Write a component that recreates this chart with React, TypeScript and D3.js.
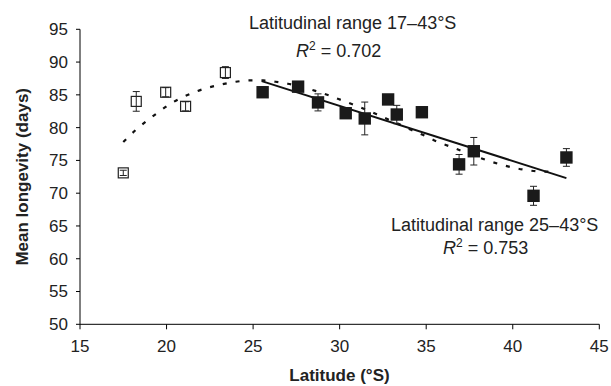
import React from "react";
import * as d3 from "d3";

// open squares: 17–25°S sites
const openLat = [17.5, 18.25, 19.95, 21.1, 23.4];
const openMean = [73.1, 84.0, 85.4, 83.25, 88.4];
const openErr = [0.4, 1.5, 0.7, 0.7, 0.9];

// filled squares: 25–43°S sites
const filledLat = [25.55, 27.6, 28.75, 30.35, 31.45, 32.8, 33.3, 34.75, 36.9, 37.75, 41.2, 43.1];
const filledMean = [85.4, 86.25, 83.85, 82.2, 81.4, 84.3, 82.0, 82.35, 74.4, 76.4, 69.6, 75.45];
const filledErr = [0.8, 0.6, 1.3, 0.5, 2.5, 0.3, 1.4, 0.8, 1.5, 2.1, 1.45, 1.35];

// trend lines
const linearFit: [number, number][] = [[25.5, 87.1], [43.1, 72.3]];
const polyFit: [number, number][] = [
  [17.5, 77.8], [18.2, 79.6], [19.5, 82.3], [20.2, 83.6], [20.9, 84.6], [21.7, 85.5],
  [22.4, 86.1], [23.2, 86.6], [24.0, 87.0], [24.8, 87.2], [25.6, 87.2], [26.3, 87.0],
  [27.0, 86.7], [28.6, 85.6], [29.4, 84.9], [30.2, 84.1], [31.0, 83.3], [31.7, 82.55],
  [32.5, 81.6], [33.3, 80.7], [34.05, 79.75], [34.8, 78.9], [35.6, 77.9], [36.4, 77.1],
  [37.1, 76.4], [37.9, 75.6], [38.6, 74.95], [39.4, 74.3], [40.2, 73.8], [41.0, 73.45],
  [41.7, 73.3], [42.5, 73.3],
];

const xTicks = [15, 20, 25, 30, 35, 40, 45];
const yTicks = [50, 55, 60, 65, 70, 75, 80, 85, 90, 95];

const font = "'Liberation Sans', Arial, sans-serif";

export default function App() {
  const x = d3.scaleLinear().domain([15, 45]).range([80, 599.3]);
  const y = d3.scaleLinear().domain([50, 95]).range([324.3, 29.3]);

  const line = d3.line<[number, number]>()
    .x(d => x(d[0]))
    .y(d => y(d[1]));
  const curve = d3.line<[number, number]>()
    .x(d => x(d[0]))
    .y(d => y(d[1]))
    .curve(d3.curveMonotoneX);

  const errBar = (lat: number, m: number, e: number, k: string) => (
    <g key={k} stroke="#222" strokeWidth={1}>
      <line x1={x(lat)} x2={x(lat)} y1={y(m - e)} y2={y(m + e)} />
      <line x1={x(lat) - 3.5} x2={x(lat) + 3.5} y1={y(m - e)} y2={y(m - e)} />
      <line x1={x(lat) - 3.5} x2={x(lat) + 3.5} y1={y(m + e)} y2={y(m + e)} />
    </g>
  );

  return (
    <svg width={611} height={386} style={{ position: "absolute", left: 0, top: 0, background: "#fff" }}
      fontFamily={font}>
      {/* axes */}
      <line x1={80} x2={80} y1={y(95)} y2={y(50)} stroke="#000" />
      <line x1={80} x2={x(45)} y1={y(50)} y2={y(50)} stroke="#000" />
      {yTicks.map(t => (
        <g key={"y" + t}>
          <line x1={76} x2={80} y1={y(t)} y2={y(t)} stroke="#000" />
          <text x={68} y={y(t)} dy="0.35em" textAnchor="end" fontSize={17} fill="#222">{t}</text>
        </g>
      ))}
      {xTicks.map(t => (
        <g key={"x" + t}>
          <line x1={x(t)} x2={x(t)} y1={y(50)} y2={y(50) + 5} stroke="#000" />
          <text x={x(t)} y={352} textAnchor="middle" fontSize={17} fill="#222">{t}</text>
        </g>
      ))}
      <text x={339.5} y={381} textAnchor="middle" fontSize={17} fontWeight="bold" fill="#222">Latitude (°S)</text>
      <text transform={`translate(28,${(y(50) + y(95)) / 2}) rotate(-90)`} textAnchor="middle" fontSize={17}
        fontWeight="bold" fill="#222">Mean longevity (days)</text>

      {/* trend lines */}
      <path d={curve(polyFit) || ""} fill="none" stroke="#111" strokeWidth={2.2} strokeDasharray="4,9" />
      <path d={line(linearFit) || ""} fill="none" stroke="#111" strokeWidth={2} />

      {/* open squares */}
      {openLat.map((lat, i) => (
        <g key={"o" + i}>
          <rect x={x(lat) - 5} y={y(openMean[i]) - 5} width={10} height={10} fill="#fff" stroke="#222" strokeWidth={1.2} />
          {errBar(lat, openMean[i], openErr[i], "oe" + i)}
        </g>
      ))}

      {/* filled squares */}
      {filledLat.map((lat, i) => (
        <g key={"f" + i}>
          {errBar(lat, filledMean[i], filledErr[i], "fe" + i)}
          <rect x={x(lat) - 6.2} y={y(filledMean[i]) - 6.2} width={12.4} height={12.4} fill="#1a1a1a" />
        </g>
      ))}

      {/* annotations */}
      <text x={249} y={29} fontSize={18} fill="#222">Latitudinal range 17–43°S</text>
      <text x={296} y={56.5} fontSize={18} fill="#222">
        <tspan fontStyle="italic">R</tspan>
        <tspan fontSize={12} dy={-7}>2</tspan>
        <tspan dy={7}> = 0.702</tspan>
      </text>
      <text x={391} y={231} fontSize={18} fill="#222">Latitudinal range 25–43°S</text>
      <text x={443} y={253.5} fontSize={18} fill="#222">
        <tspan fontStyle="italic">R</tspan>
        <tspan fontSize={12} dy={-7}>2</tspan>
        <tspan dy={7}> = 0.753</tspan>
      </text>
    </svg>
  );
}
